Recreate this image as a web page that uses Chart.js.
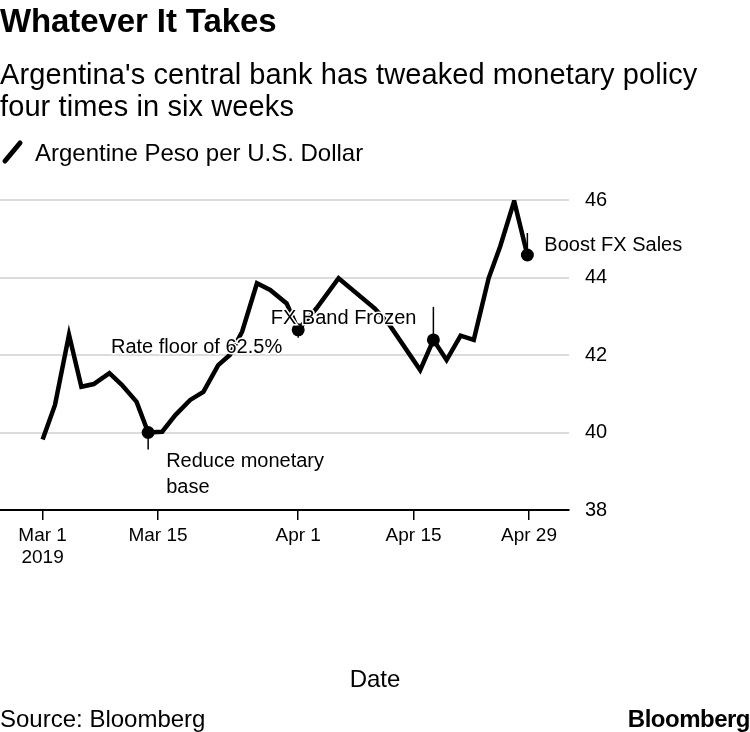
<!DOCTYPE html>
<html>
<head>
<meta charset="utf-8">
<script src="https://cdn.jsdelivr.net/npm/chart.js@4.4.1/dist/chart.umd.min.js"></script>
<style>
body { margin: 0; background: #fff; font-family: "Liberation Sans", Arial, sans-serif; color: #000; }
#wrap { position: relative; width: 750px; height: 732px; overflow: hidden; }
canvas { position: absolute; left: 0; top: 0; }
.t { position: absolute; white-space: nowrap; }
</style>
</head>
<body>
<div id="wrap">
  <canvas id="fxChart" width="750" height="732"></canvas>
  <div class="t" style="left:0;top:5px;font-size:33px;line-height:32px;font-weight:bold;letter-spacing:-0.1px">Whatever It Takes</div>
  <div class="t" style="left:0;top:58px;font-size:29px;line-height:32px;letter-spacing:0.1px">Argentina's central bank has tweaked monetary policy<br>four times in six weeks</div>
  <svg class="t" style="left:0;top:138px" width="26" height="28"><line x1="5" y1="23" x2="20" y2="5" stroke="#000" stroke-width="5" stroke-linecap="round"/></svg>
  <div class="t" style="left:35px;top:141px;font-size:24px;line-height:24px">Argentine Peso per U.S. Dollar</div>
  <div class="t" style="left:0;width:750px;text-align:center;top:667px;font-size:24px;line-height:24px">Date</div>
  <div class="t" style="left:0;top:707px;font-size:24px;line-height:24px">Source: Bloomberg</div>
  <div class="t" style="right:0;top:707px;font-size:24px;line-height:24px;font-weight:bold;letter-spacing:-0.5px">Bloomberg</div>
</div>
<script>
// days since Mar 1 2019
var dayOffsets = [0, 1.5, 3.2, 4.7, 6.2, 8.1, 9.6, 11.4, 12.8, 14.5, 16.1, 17.9, 19.5, 21.3, 22.7, 24.2, 26.0,
                  27.6, 29.6, 31.0, 33.2, 35.9, 40.3, 42.1, 45.8, 47.4, 49.0, 50.7, 52.3, 54.1, 55.5, 57.2, 58.8];
var pesoPerDollar = [39.82, 40.71, 42.52, 41.18, 41.25, 41.53, 41.23, 40.79, 40.0, 40.02, 40.45, 40.84, 41.05, 41.74, 42.0, 42.6, 43.85,
                     43.68, 43.33, 42.65, 43.2, 43.98, 43.2, 42.77, 41.61, 42.39, 41.87, 42.5, 42.39, 43.98, 44.8, 45.97, 44.58];

var eventIndex = [8, 19, 25, 32];
var eventText = [["Reduce monetary", "base"], ["Rate floor of 62.5%"], ["FX Band Frozen"], ["Boost FX Sales"]];

var tickDays = [0, 14, 31, 45, 59];
var tickLabels = [["Mar 1", "2019"], "Mar 15", "Apr 1", "Apr 15", "Apr 29"];
var yTicks = [38, 40, 42, 44, 46];

Chart.defaults.font.family = '"Liberation Sans", Arial, sans-serif';
Chart.defaults.color = "#000";

// leader length, label offset x / y, alignment
var eventStyle = [
    {leader: 17, dx: 18, dy: 34, align: "left"},
    {leader: 8, dx: -16, dy: 23, align: "right"},
    {leader: -33, dx: -17, dy: -16, align: "right"},
    {leader: -22, dx: 17, dy: -4, align: "left"}
];

var eventPlugin = {
    id: "events",
    afterDatasetsDraw: function(chart) {
        var ctx = chart.ctx;
        var xs = chart.scales.x, ys = chart.scales.y;
        ctx.save();
        ctx.font = "20px 'Liberation Sans', Arial, sans-serif";
        ctx.textBaseline = "alphabetic";
        eventIndex.forEach(function(idx, k) {
            var px = xs.getPixelForValue(dayOffsets[idx]);
            var py = ys.getPixelForValue(pesoPerDollar[idx]);
            var st = eventStyle[k];
            ctx.strokeStyle = "#000";
            ctx.lineWidth = 1.5;
            ctx.beginPath();
            ctx.moveTo(px, py);
            ctx.lineTo(px, py + st.leader);
            ctx.stroke();
            ctx.textAlign = st.align;
            eventText[k].forEach(function(line, j) {
                var ty = py + st.dy + j * 26;
                ctx.lineWidth = 3;
                ctx.strokeStyle = "#fff";
                ctx.strokeText(line, px + st.dx, ty);
                ctx.fillStyle = "#000";
                ctx.fillText(line, px + st.dx, ty);
            });
        });
        ctx.restore();
    }
};

new Chart("fxChart", {
    type: "line",
    data: {
        datasets: [{
            data: dayOffsets.map(function(d, i) { return {x: d, y: pesoPerDollar[i]}; }),
            borderColor: "#000",
            borderWidth: 4.5,
            pointRadius: 0,
            tension: 0,
            fill: false
        }, {
            data: eventIndex.map(function(i) { return {x: dayOffsets[i], y: pesoPerDollar[i]}; }),
            showLine: false,
            pointRadius: 6.5,
            pointBackgroundColor: "#000",
            pointBorderWidth: 0
        }]
    },
    options: {
        responsive: false,
        animation: false,
        layout: {
            autoPadding: false,
            padding: {top: 200, left: 0, right: 0, bottom: 0}
        },
        plugins: {
            legend: {display: false},
            tooltip: {enabled: false}
        },
        scales: {
            x: {
                type: "linear",
                min: -5.17,
                max: 63.85,
                afterBuildTicks: function(s) { s.ticks = tickDays.map(function(v) { return {value: v}; }); },
                afterFit: function(s) {
                    s.height = 222;
                    s.paddingLeft = 0;
                    s.paddingRight = 0;
                },
                ticks: {
                    callback: function(v, i) { return tickLabels[i]; },
                    font: {size: 19},
                    padding: 4,
                    maxRotation: 0,
                    autoSkip: false
                },
                grid: {
                    drawOnChartArea: false,
                    drawTicks: true,
                    tickLength: 10,
                    color: "#000",
                    lineWidth: 1.5
                },
                border: {color: "#000", width: 2}
            },
            y: {
                position: "right",
                min: 38,
                max: 46,
                afterBuildTicks: function(s) { s.ticks = yTicks.map(function(v) { return {value: v}; }); },
                afterFit: function(s) { s.width = 181; },
                ticks: {
                    font: {size: 20},
                    padding: 16
                },
                grid: {
                    color: "#dcdcdc",
                    lineWidth: 2,
                    drawTicks: false
                },
                border: {display: false}
            }
        }
    },
    plugins: [eventPlugin]
});
</script>
</body>
</html>
